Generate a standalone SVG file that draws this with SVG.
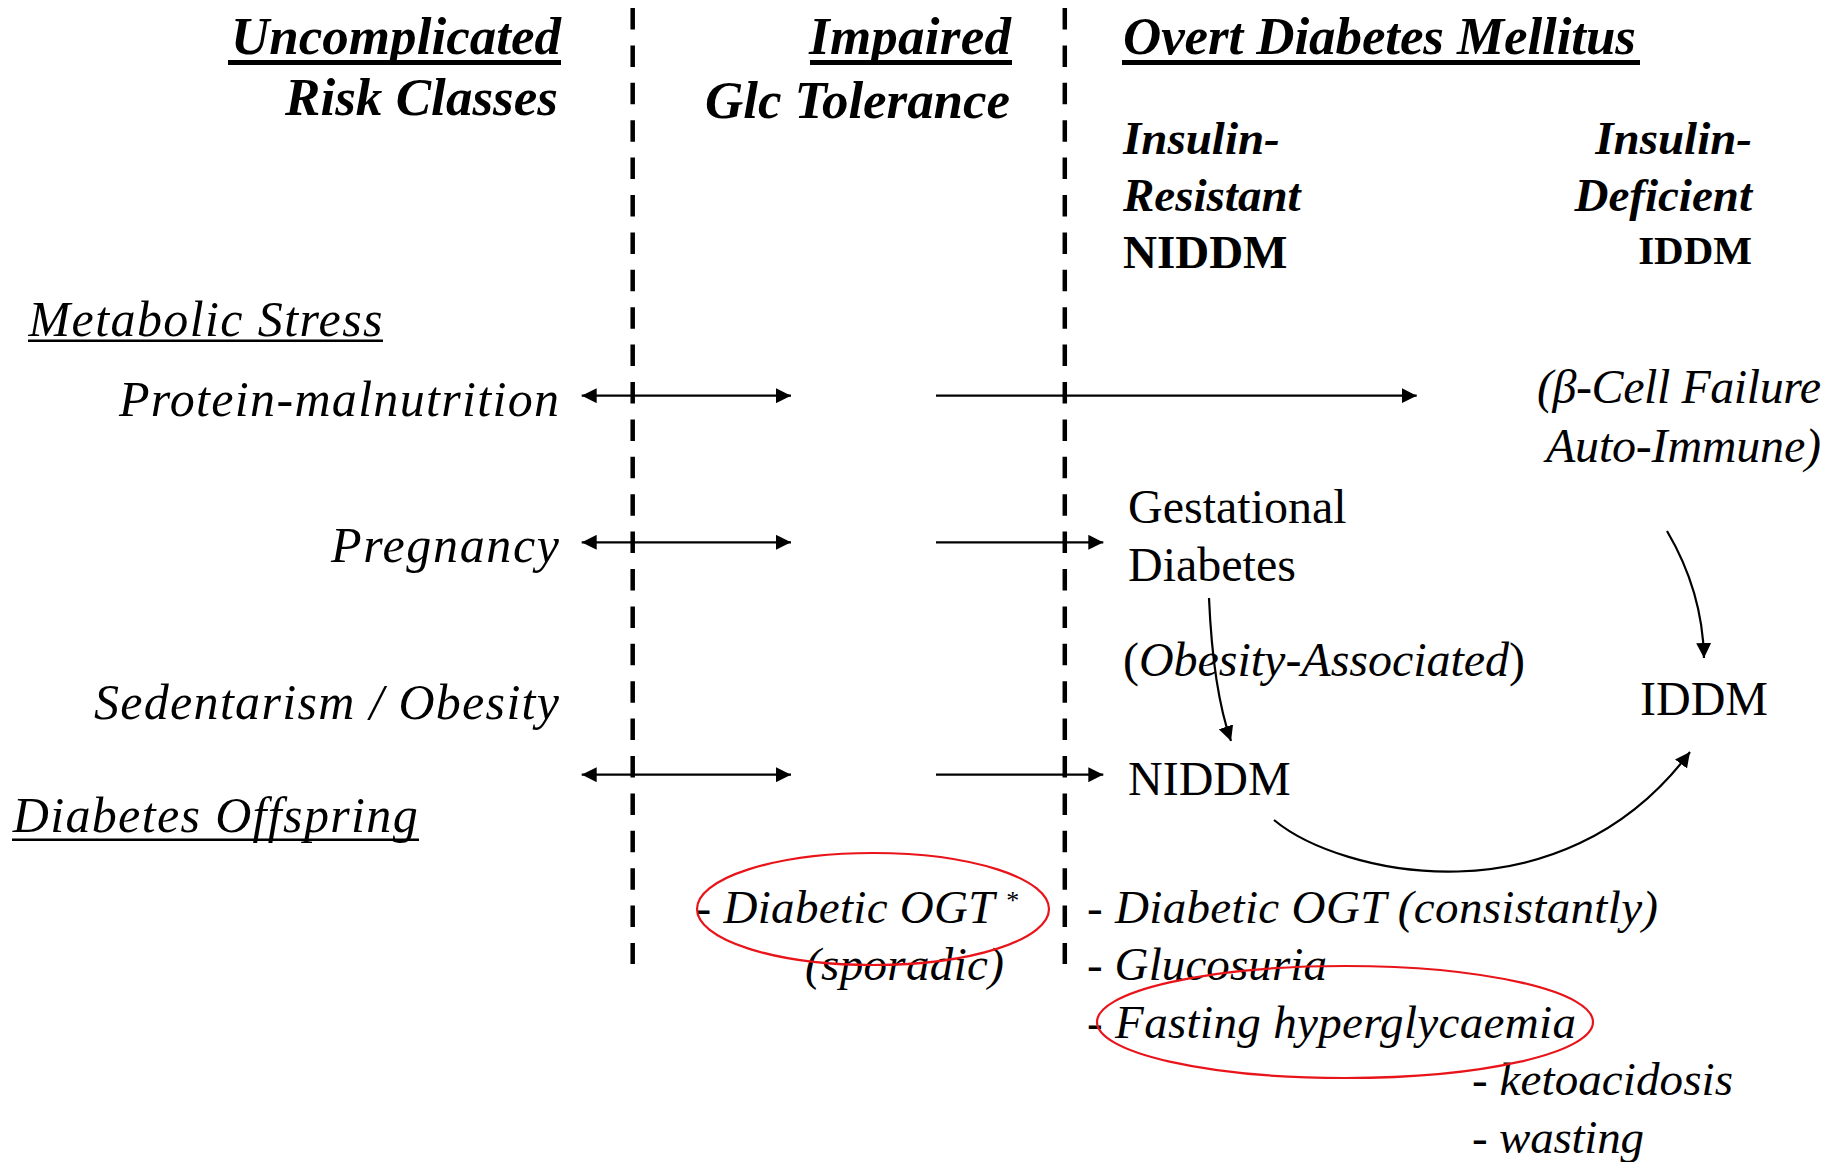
<svg xmlns="http://www.w3.org/2000/svg" width="1837" height="1162" viewBox="0 0 1837 1162">
  <defs>
    <marker id="tip" viewBox="0 0 15 15" refX="15" refY="7.5" markerWidth="15" markerHeight="15" markerUnits="userSpaceOnUse" orient="auto-start-reverse">
      <path d="M0,0 L15,7.5 L0,15 z" fill="#000"/>
    </marker>
  </defs>
  <style>
    text { font-family: "Liberation Serif", "Times New Roman", serif; fill: #000; }
    .hd { font-size: 53px; font-weight: bold; font-style: italic; }
    .sub { font-size: 47px; font-weight: bold; font-style: italic; }
    .lab { font-size: 50px; font-style: italic; }
    .node { font-size: 48px; }
    .it { font-style: italic; }
    .lst { font-size: 47px; font-style: italic; }
    .bar { fill: #000; }
    .div { stroke: #000; stroke-width: 4.5; stroke-dasharray: 21.5 15.9; fill: none; }
    .arr { stroke: #000; stroke-width: 2.2; fill: none; }
    .ring { fill: none; stroke: #e8141a; stroke-width: 2.2; }
  </style>
  <rect width="1837" height="1162" fill="#fff"/>

  <!-- column headings -->
  <g id="head-risk">
    <text class="hd" x="561" y="54" text-anchor="end" textLength="330">Uncomplicated</text>
    <rect class="bar" x="228" y="60" width="333" height="5"/>
    <text class="hd" x="558" y="115" text-anchor="end" textLength="273">Risk Classes</text>
  </g>
  <g id="head-igt">
    <text class="hd" x="1011" y="54" text-anchor="end" textLength="202">Impaired</text>
    <rect class="bar" x="810" y="60" width="202" height="5"/>
    <text class="hd" x="1010" y="118" text-anchor="end" textLength="305">Glc Tolerance</text>
  </g>
  <g id="head-overt">
    <text class="hd" x="1123" y="54" textLength="513">Overt Diabetes Mellitus</text>
    <rect class="bar" x="1122" y="60" width="518" height="5"/>
  </g>
  <g id="head-niddm">
    <text class="sub" x="1123" y="154">Insulin-</text>
    <text class="sub" x="1123" y="211">Resistant</text>
    <text x="1123" y="268" font-size="47" font-weight="bold">NIDDM</text>
  </g>
  <g id="head-iddm">
    <text class="sub" x="1752" y="154" text-anchor="end">Insulin-</text>
    <text class="sub" x="1752" y="211" text-anchor="end">Deficient</text>
    <text x="1752" y="264" font-size="41" font-weight="bold" text-anchor="end">IDDM</text>
  </g>

  <!-- risk factors -->
  <g id="metabolic-stress">
    <text class="lab" x="28.5" y="336" textLength="354">Metabolic Stress</text>
    <rect class="bar" x="28" y="339.5" width="355" height="2.5"/>
  </g>
  <g id="protein-malnutrition">
    <text class="lab" x="559" y="416" text-anchor="end" textLength="440">Protein-malnutrition</text>
  </g>
  <g id="pregnancy">
    <text class="lab" x="559" y="562" text-anchor="end" textLength="228">Pregnancy</text>
  </g>
  <g id="sedentarism-obesity">
    <text class="lab" x="559" y="719" text-anchor="end" textLength="465">Sedentarism / Obesity</text>
  </g>
  <g id="diabetes-offspring">
    <text class="lab" x="12.7" y="832" textLength="405">Diabetes Offspring</text>
    <rect class="bar" x="12" y="838.5" width="407" height="2.5"/>
  </g>

  <!-- outcomes -->
  <g id="beta-cell-failure">
    <text class="node it" x="1821" y="403" text-anchor="end" textLength="284">(β-Cell Failure</text>
    <text class="node it" x="1821" y="462" text-anchor="end" textLength="275">Auto-Immune)</text>
  </g>
  <g id="gestational-diabetes">
    <text class="node" x="1128" y="523">Gestational</text>
    <text class="node" x="1128" y="581">Diabetes</text>
  </g>
  <g id="obesity-associated">
    <text class="node" x="1123" y="676" textLength="402">(<tspan class="it">Obesity-Associated</tspan>)</text>
  </g>
  <g id="niddm">
    <text class="node" x="1128" y="795">NIDDM</text>
  </g>
  <g id="iddm">
    <text class="node" x="1640" y="715">IDDM</text>
  </g>

  <!-- findings -->
  <g id="igt-findings">
    <text class="lst" x="695.5" y="923" textLength="299">- Diabetic OGT</text>
    <text x="1005" y="909" font-size="26" font-style="italic">*</text>
    <text class="lst" x="805" y="980" textLength="199">(sporadic)</text>
    <ellipse class="ring" cx="873" cy="909" rx="176" ry="56"/>
  </g>
  <g id="overt-findings">
    <text class="lst" x="1087" y="923" textLength="571">- Diabetic OGT (consistantly)</text>
    <text class="lst" x="1087" y="980" textLength="240">- Glucosuria</text>
    <text class="lst" x="1087" y="1038" textLength="489">- Fasting hyperglycaemia</text>
    <text class="lst" x="1472" y="1095" textLength="261">- ketoacidosis</text>
    <text class="lst" x="1472" y="1153" textLength="172">- wasting</text>
    <ellipse class="ring" cx="1345" cy="1022" rx="248" ry="56"/>
  </g>

  <!-- stage dividers and arrows -->
  <g id="connectors">
    <line class="div" x1="632.7" y1="8" x2="632.7" y2="964"/>
    <line class="div" x1="1064.8" y1="8" x2="1064.8" y2="964"/>

    <line class="arr" x1="581.7" y1="395.7" x2="791" y2="395.7" marker-start="url(#tip)" marker-end="url(#tip)"/>
    <line class="arr" x1="936" y1="395.7" x2="1416.7" y2="395.7" marker-end="url(#tip)"/>

    <line class="arr" x1="581.7" y1="542.3" x2="791" y2="542.3" marker-start="url(#tip)" marker-end="url(#tip)"/>
    <line class="arr" x1="936" y1="542.3" x2="1103.3" y2="542.3" marker-end="url(#tip)"/>

    <line class="arr" x1="581.7" y1="774.7" x2="791" y2="774.7" marker-start="url(#tip)" marker-end="url(#tip)"/>
    <line class="arr" x1="936" y1="774.7" x2="1103.3" y2="774.7" marker-end="url(#tip)"/>

    <path class="arr" d="M1209,598 Q1213,690 1231,741" marker-end="url(#tip)"/>
    <path class="arr" d="M1667,531 C1690,570 1703,610 1704,658" marker-end="url(#tip)"/>
    <path class="arr" d="M1274,820 C1340,875 1560,925 1690,752" marker-end="url(#tip)"/>
  </g>
</svg>
